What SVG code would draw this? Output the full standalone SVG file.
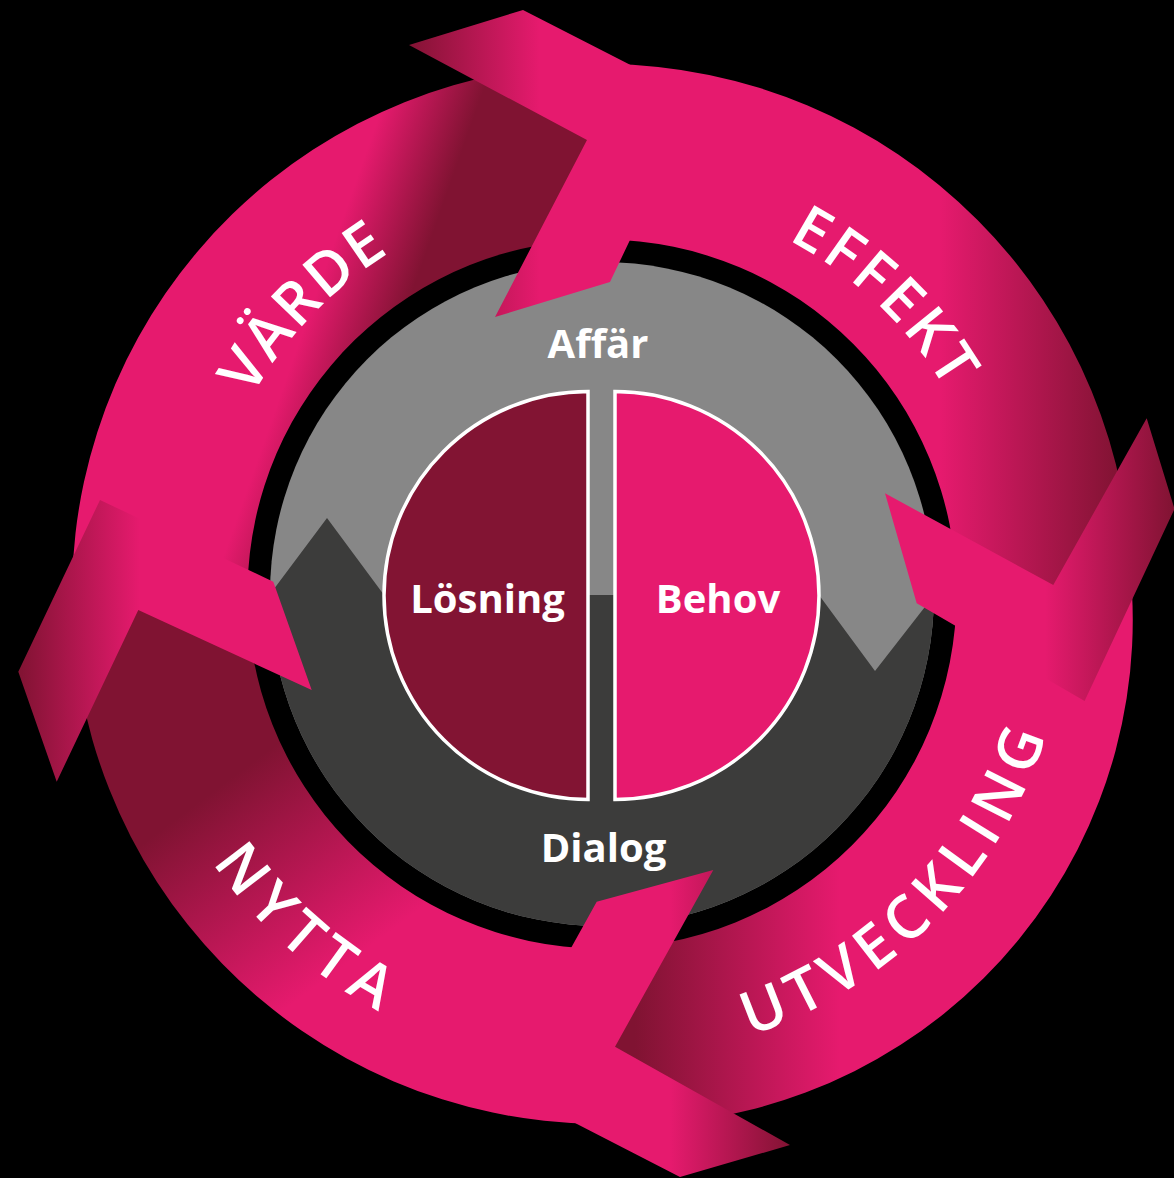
<svg xmlns="http://www.w3.org/2000/svg" width="1174" height="1178" viewBox="0 0 1174 1178">
<defs>
<style>
.lbl{font-family:"Open Sans","DejaVu Sans",sans-serif;font-weight:700;font-size:40px;fill:#fff;text-anchor:middle}
.ring{font-family:"Open Sans","DejaVu Sans",sans-serif;font-weight:600;font-size:60px;fill:#fff;text-anchor:middle}
.half{stroke:#fff;stroke-width:3.5}
</style>
<linearGradient id="gV" gradientUnits="userSpaceOnUse" x1="330.5" y1="253" x2="415.5" y2="283"><stop offset="0" stop-color="#E61A6E"/><stop offset="1" stop-color="#801332"/></linearGradient>
<linearGradient id="gE" gradientUnits="userSpaceOnUse" x1="940" y1="0" x2="1120" y2="0"><stop offset="0" stop-color="#E61A6E"/><stop offset="1" stop-color="#801332"/></linearGradient>
<linearGradient id="gU" gradientUnits="userSpaceOnUse" x1="840" y1="0" x2="635" y2="0"><stop offset="0" stop-color="#E61A6E"/><stop offset="1" stop-color="#801332"/></linearGradient>
<linearGradient id="gN" gradientUnits="userSpaceOnUse" x1="345" y1="965" x2="215" y2="790"><stop offset="0" stop-color="#E61A6E"/><stop offset="1" stop-color="#801332"/></linearGradient>
<linearGradient id="cT" gradientUnits="userSpaceOnUse" x1="540" y1="0" x2="405" y2="0"><stop offset="0" stop-color="#E61A6E"/><stop offset="1" stop-color="#801332"/></linearGradient>
<linearGradient id="cR" gradientUnits="userSpaceOnUse" x1="1045" y1="0" x2="1174" y2="0"><stop offset="0" stop-color="#E61A6E"/><stop offset="1" stop-color="#801332"/></linearGradient>
<linearGradient id="cB" gradientUnits="userSpaceOnUse" x1="670" y1="0" x2="792" y2="0"><stop offset="0" stop-color="#E61A6E"/><stop offset="1" stop-color="#801332"/></linearGradient>
<linearGradient id="cL" gradientUnits="userSpaceOnUse" x1="140" y1="0" x2="18" y2="0"><stop offset="0" stop-color="#E61A6E"/><stop offset="1" stop-color="#801332"/></linearGradient>
<clipPath id="disc"><circle cx="602" cy="594" r="332"/></clipPath>
<path id="tV" d="M 204.63 533.19 A 402 402 0 0 1 523.23 199.79"/>
<path id="tE" d="M 661.12 198.39 A 400 400 0 0 1 993.97 514.25"/>
<path id="tU" d="M 605.25 1059.99 A 466 466 0 0 0 1067.99 590.75"/>
<path id="tN" d="M 141.5 702.01 A 473 473 0 0 0 545.99 1063.67"/>
</defs>
<rect width="1174" height="1178" fill="#000"/>
<g id="core">
<circle cx="602" cy="594" r="332" fill="#878787"/>
<polygon clip-path="url(#disc)" fill="#3C3C3B" points="250,621 327,518 384,595 819,595 875,671 960,562 960,960 250,960"/>
<text class="lbl" x="598" y="358">Affär</text>
<text class="lbl" x="603.5" y="862">Dialog</text>
</g>
<g id="node-losning">
<path class="half" fill="#821433" d="M 588 391.5 A 204 204 0 0 0 588 799.5 Z"/>
<text class="lbl" x="487.5" y="613">Lösning</text>
</g>
<g id="node-behov">
<path class="half" fill="#E61A6E" d="M 615 391.5 A 204 204 0 0 1 615 799.5 Z"/>
<text class="lbl" x="718" y="613">Behov</text>
</g>
<g id="connectors">
<path id="band-varde" fill="url(#gV)" d="M 72.08 584.75 A 530 530 0 0 1 606.63 64.02 L 605.09 239.51 A 354.5 354.5 0 0 0 247.55 587.81 Z"/>
<path id="band-effekt" fill="url(#gE)" d="M 606.63 64.02 A 530 530 0 0 1 1132 592.15 L 956.5 592.76 A 354.5 354.5 0 0 0 605.09 239.51 Z"/>
<path id="band-utveckling" fill="url(#gU)" d="M 1132 592.15 A 505 505 0 0 1 596.45 1123.97 L 598.29 948.48 A 354.5 354.5 0 0 0 956.5 592.76 Z"/>
<path id="band-nytta" fill="url(#gN)" d="M 596.45 1123.97 A 530 530 0 0 1 72.08 584.75 L 247.55 587.81 A 354.5 354.5 0 0 0 598.29 948.48 Z"/>
<polygon id="tail-effekt" fill="url(#cT)" points="409,45 523,10 697,99 610,282 495,317 587,140"/>
<polygon id="tail-utveckling" fill="url(#cR)" points="1146.7,418.3 1174.5,509 1084.6,701.1 916.7,603.3 885,493.3 1053.3,585"/>
<polygon id="tail-nytta" fill="url(#cB)" points="790,1145 680,1177 496.3,1082.6 596.7,901.7 713.3,870 615,1046.7"/>
<polygon id="tail-varde" fill="url(#cL)" points="56.7,781.7 18.3,671.7 100,500 273.3,581.7 311.7,690 138.3,610"/>
</g>
<g id="ring-labels">
<text class="ring"><textPath href="#tV" startOffset="50%" textLength="201" lengthAdjust="spacing">VÄRDE</textPath></text>
<text class="ring"><textPath href="#tE" startOffset="50%" textLength="221" lengthAdjust="spacing">EFFEKT</textPath></text>
<text class="ring"><textPath href="#tU" startOffset="50%" textLength="437" lengthAdjust="spacing">UTVECKLING</textPath></text>
<text class="ring"><textPath href="#tN" startOffset="50%" textLength="225" lengthAdjust="spacing">NYTTA</textPath></text>
</g>
</svg>
